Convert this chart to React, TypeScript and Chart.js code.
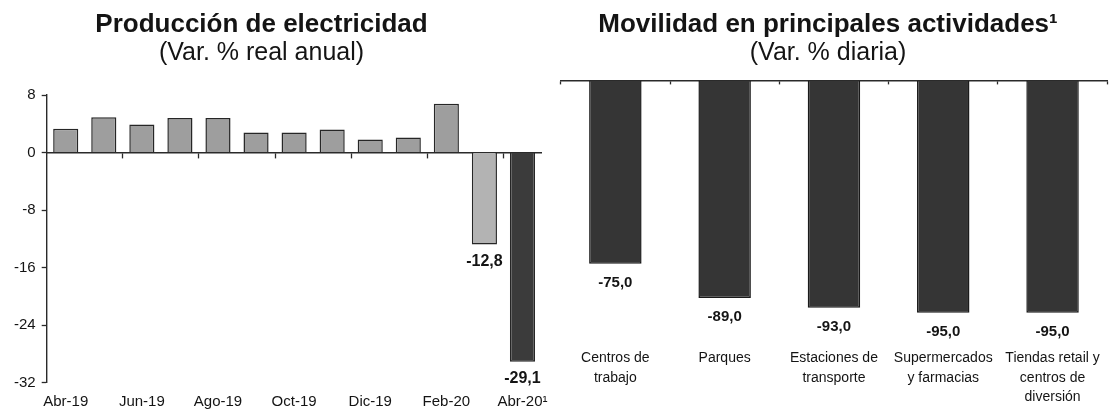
import React, { useEffect, useRef } from "react";
import { Chart, registerables } from "chart.js";

Chart.register(...registerables);

// ---------- DATA ----------
const elecMonths = [
  "Abr-19", "May-19", "Jun-19", "Jul-19", "Ago-19", "Sep-19", "Oct-19",
  "Nov-19", "Dic-19", "Ene-20", "Feb-20", "Mar-20", "Abr-20¹",
];
const elecValues = [3.3, 4.9, 3.9, 4.8, 4.8, 2.8, 2.8, 3.2, 1.8, 2.1, 6.8, -12.8, -29.1];
const elecTicks = [8, 0, -8, -16, -24, -32];

const mobCategories = [
  ["Centros de", "trabajo"],
  ["Parques"],
  ["Estaciones de", "transporte"],
  ["Supermercados", "y farmacias"],
  ["Tiendas retail y", "centros de", "diversión"],
];
const mobValues = [-75.0, -89.0, -93.0, -95.0, -95.0];

// ---------- STYLE ----------
const FONT = "'Liberation Sans', Arial, Helvetica, sans-serif";
const INK = "#141414";
const LINE = "#2a2a2a";

Chart.defaults.font.family = FONT;
Chart.defaults.color = INK;

const fmt = (v: number) => v.toFixed(1).replace(".", ",");

function valueLabels(id: string, font: string, offset: number) {
  return {
    id,
    afterDatasetsDraw(chart: any) {
      const ctx = chart.ctx;
      const ds = chart.data.datasets[0];
      const meta = chart.getDatasetMeta(0);
      ctx.save();
      ctx.font = font;
      ctx.fillStyle = INK;
      ctx.textAlign = "center";
      ctx.textBaseline = "middle";
      meta.data.forEach((el: any, i: number) => {
        const v = ds.data[i] as number;
        if (v < 0) ctx.fillText(fmt(v), el.x, el.y + offset);
      });
      ctx.restore();
    },
  };
}

function ElecChart() {
  const ref = useRef<HTMLCanvasElement | null>(null);
  useEffect(() => {
    if (!ref.current) return;
    const n = elecValues.length;
    const chart = new Chart(ref.current, {
      type: "bar",
      data: {
        labels: elecMonths,
        datasets: [
          {
            data: elecValues,
            backgroundColor: (c: any) =>
              c.dataIndex === n - 1 ? "#3b3b3b" : elecValues[c.dataIndex] < 0 ? "#b3b3b3" : "#9e9e9e",
            borderColor: "#262626",
            borderWidth: 1.5,
            barPercentage: 0.66,
            categoryPercentage: 1,
            xAxisID: "x",
            yAxisID: "y",
          },
        ],
      },
      options: {
        responsive: false,
        animation: false,
        layout: { padding: { top: 95, left: 0, right: 18.5, bottom: 0 } },
        plugins: { legend: { display: false }, tooltip: { enabled: false }, title: { display: false } },
        scales: {
          y: {
            type: "linear",
            position: "left",
            min: Math.min(...elecTicks),
            max: Math.max(...elecTicks),
            ticks: {
              stepSize: elecTicks[0] - elecTicks[1],
              font: { size: 15 },
              color: INK,
              padding: 6,
            },
            grid: { drawOnChartArea: false, drawTicks: true, tickLength: 5, tickColor: LINE, tickWidth: 1.3 },
            border: { display: true, color: LINE, width: 1.4 },
            afterFit: (s: any) => { s.width = 46.7; },
          },
          x: {
            type: "category",
            position: { y: 0 } as any,
            offset: true,
            ticks: { display: false },
            grid: {
              offset: true,
              drawOnChartArea: false,
              drawTicks: true,
              tickLength: 5,
              tickWidth: 1.3,
              tickColor: (c: any) =>
                typeof c.index === "number" && c.index > 0 && c.index % 2 === 0 ? LINE : "rgba(0,0,0,0)",
            },
            border: { display: true, color: LINE, width: 1.4 },
          },
          x2: {
            type: "category",
            axis: "x",
            position: "bottom",
            offset: true,
            grid: { display: false, drawTicks: false, offset: true },
            border: { display: false },
            ticks: {
              autoSkip: false,
              maxRotation: 0,
              minRotation: 0,
              padding: 10,
              font: { size: 15 },
              color: INK,
              callback: (_v: any, i: number) => (i % 2 === 0 ? elecMonths[i] : ""),
            },
            afterFit: (s: any) => { s.height = 31.3; },
          } as any,
        },
      },
      plugins: [valueLabels("elecLabels", `bold 16px ${FONT}`, 17)],
    } as any);
    return () => chart.destroy();
  }, []);
  return (
    <canvas
      ref={ref}
      width={560}
      height={414}
      style={{ position: "absolute", left: 0, top: 0, width: 560, height: 414, display: "block" }}
    />
  );
}

function MobChart() {
  const ref = useRef<HTMLCanvasElement | null>(null);
  useEffect(() => {
    if (!ref.current) return;
    const chart = new Chart(ref.current, {
      type: "bar",
      data: {
        labels: mobCategories as any,
        datasets: [
          {
            data: mobValues,
            backgroundColor: "#353535",
            borderColor: "#1a1a1a",
            borderWidth: 1.5,
            barPercentage: 0.48,
            categoryPercentage: 1,
            xAxisID: "x",
            yAxisID: "y",
          },
        ],
      },
      options: {
        responsive: false,
        animation: false,
        layout: { padding: { top: 80.7, left: 4.7, right: 9.8, bottom: 0 } },
        plugins: { legend: { display: false }, tooltip: { enabled: false }, title: { display: false } },
        scales: {
          y: { type: "linear", display: false, min: -108, max: 0 },
          x: {
            type: "category",
            position: { y: 0 } as any,
            offset: true,
            ticks: { display: false },
            grid: {
              offset: true,
              drawOnChartArea: false,
              drawTicks: true,
              tickLength: 3,
              tickWidth: 1.3,
              tickColor: LINE,
            },
            border: { display: true, color: LINE, width: 1.4 },
          },
          x2: {
            type: "category",
            axis: "x",
            position: "bottom",
            offset: true,
            grid: { display: false, drawTicks: false, offset: true },
            border: { display: false },
            ticks: {
              autoSkip: false,
              maxRotation: 0,
              minRotation: 0,
              padding: 4,
              font: { size: 14, lineHeight: 1.4 },
              color: INK,
            },
            afterFit: (s: any) => { s.height = 69.6; },
          } as any,
        },
      },
      plugins: [valueLabels("mobLabels", `bold 15px ${FONT}`, 19)],
    } as any);
    return () => chart.destroy();
  }, []);
  return (
    <canvas
      ref={ref}
      width={561}
      height={414}
      style={{ position: "absolute", left: 556, top: 0, width: 561, height: 414, display: "block" }}
    />
  );
}

const titleBase: React.CSSProperties = {
  position: "absolute",
  textAlign: "center",
  whiteSpace: "nowrap",
  fontFamily: FONT,
  color: INK,
  lineHeight: "28px",
};

export default function App() {
  return (
    <div
      style={{
        position: "fixed",
        left: 0,
        top: 0,
        width: 1117,
        height: 414,
        background: "#ffffff",
        overflow: "hidden",
      }}
    >
      <ElecChart />
      <MobChart />
      <div style={{ ...titleBase, left: 0, width: 523, top: 8.5, fontSize: 26, fontWeight: "bold" }}>
        Producción de electricidad
      </div>
      <div style={{ ...titleBase, left: 0, width: 523, top: 37.3, fontSize: 25 }}>(Var. % real anual)</div>
      <div style={{ ...titleBase, left: 528, width: 600, top: 8.5, fontSize: 26, fontWeight: "bold" }}>
        Movilidad en principales actividades¹
      </div>
      <div style={{ ...titleBase, left: 528, width: 600, top: 37.3, fontSize: 25 }}>(Var. % diaria)</div>
    </div>
  );
}
